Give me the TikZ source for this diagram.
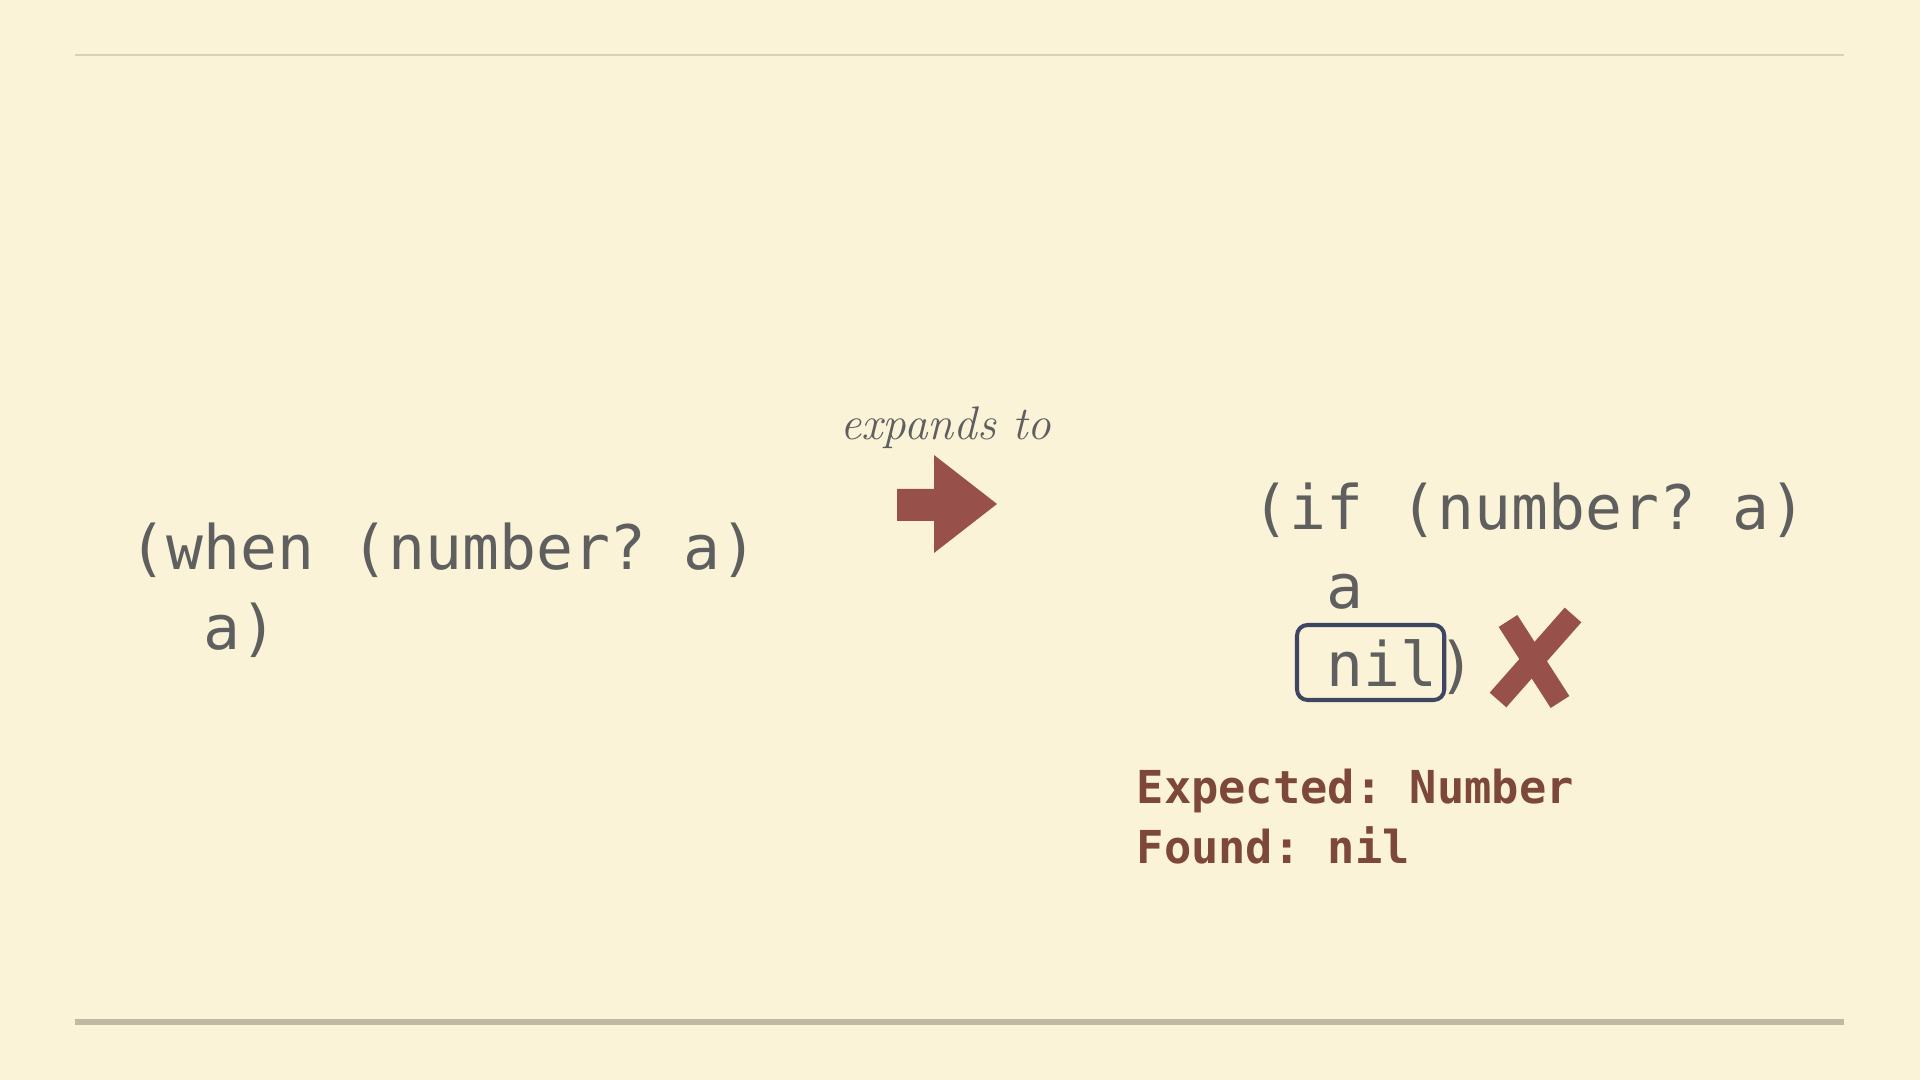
\documentclass[tikz,border=0pt]{standalone}
\usepackage{fontspec}
\newfontfamily\codefont{DejaVu Sans Mono}
\usetikzlibrary{calc,positioning}
\definecolor{paper}{RGB}{250,243,216}
\definecolor{rulelight}{RGB}{214,208,188}
\definecolor{ruledark}{RGB}{192,186,165}
\definecolor{codegray}{RGB}{95,95,95}
\definecolor{arrowred}{RGB}{152,80,74}
\definecolor{errtext}{RGB}{125,72,58}
\definecolor{boxblue}{RGB}{62,70,98}
\frenchspacing

\begin{document}
\begin{tikzpicture}[x=0.01cm,y=-0.01cm,
    code/.style={font=\codefont\fontsize{17.45}{20}\selectfont, text=codegray, inner sep=0pt, anchor=base west},
    errmsg/.style={font=\codefont\bfseries\fontsize{12.9}{15}\selectfont, text=errtext, inner sep=0pt, anchor=base west},
    nilbox/.style={draw=boxblue, line width=1.15pt, rounded corners=3pt},
    crossstroke/.style={draw=arrowred, line width=6.3pt}]
          \fill[paper] (0,0) rectangle (1920,1080);
          \useasboundingbox (0,0) rectangle (1920,1080);

          \draw[rulelight, line width=0.6pt] (75,55) -- (1844,55);
          \draw[ruledark, line width=1.7pt] (75,1022) -- (1844,1022);

          % before
          \node[code] (when1) at (129,570) {(when (number? a)};
          \node[code] (when2) at (129,650) {~~a)};

          % expands to
          \node[font=\itshape\fontsize{13.4}{16}\selectfont, text=codegray, inner sep=0pt, anchor=base] (expands) at (946,440) {expands to};
          \fill[arrowred] (897,489) -- (934,489) -- (934,455) -- (997,504)
                -- (934,553) -- (934,521) -- (897,521) -- cycle;

          % after
          \node[code] (if1) at (1252,530) {(if (number? a)};
          \node[code] (if2) at (1252,609) {~~a};
          \node[code] (nilword) at (1326,687) {nil};
          \node[code] (nilclose) at (nilword.base east) {)};
          \draw[nilbox] ($(nilword.base west)+(-29,-62)$) rectangle ($(nilword.base east)+(6,13)$);

          \draw[crossstroke] (1498,700) -- (1573,615);
          \draw[crossstroke] (1508,621) -- (1560,702);

          \node[errmsg] (expected) at (1136,804) {Expected: Number};
          \node[errmsg] (found) at (1136,864) {Found: nil};
        \end{tikzpicture}
\end{document}
